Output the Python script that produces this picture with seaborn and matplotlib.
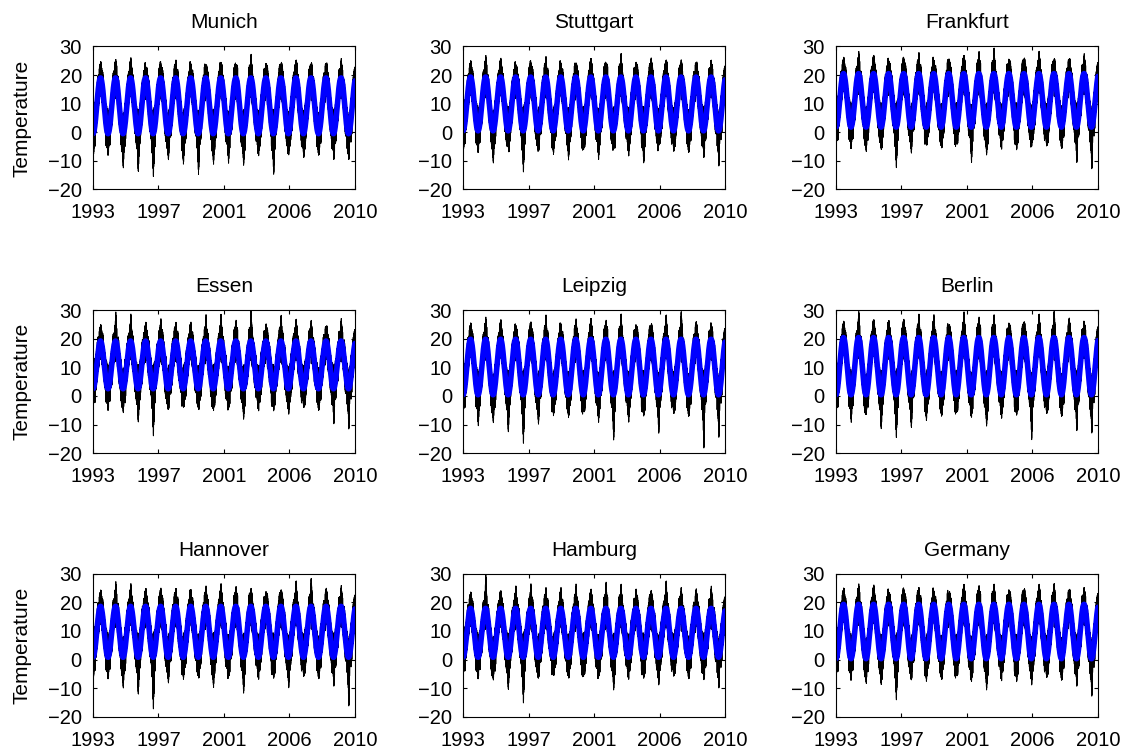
import numpy as np
import pandas as pd
import matplotlib
matplotlib.use("Agg")
import matplotlib.pyplot as plt
import seaborn as sns

# ---------------- data ----------------
cities = ["Munich", "Stuttgart", "Frankfurt", "Essen", "Leipzig", "Berlin",
          "Hannover", "Hamburg", "Germany"]
# seasonal fit (blue): minimum and maximum of the fitted annual cycle
fit_min = [-0.5, 0.5, 1.8, 2.5, 0.4, 0.4, 0.8, 0.8, 0.3]
fit_max = [19.0, 19.3, 20.5, 19.2, 19.8, 20.4, 18.6, 17.9, 19.3]

# daily temperature (black): yearly summer maxima 1993..2009, winter minima Jan 1993..Jan 2010
munich_peaks = [22, 25.5, 26.2, 22.5, 22, 25.4, 24, 23.7, 24.6, 23.7, 27.4, 23, 24, 25.4, 23.5, 23, 26]
munich_lows = [-10.2, -7.4, -12.5, -14, -15.6, -9.7, -11.4, -14.8, -11.4, -11, -11.6, -8, -14.8, -8, -9, -7.4, -9.7, -9.7]
stuttgart_peaks = [24.3, 26.9, 26, 23.7, 23.9, 26.6, 24.3, 24.3, 26, 24.3, 27.7, 24.6, 26, 25.4, 25.4, 23.7, 25.4]
stuttgart_lows = [-8, -6.2, -10.8, -4.5, -14, -5.6, -8, -9.7, -6.2, -9.7, -5, -8.5, -10.8, -3, -6.8, -4, -9, -12]
frankfurt_peaks = [24.3, 28.3, 27, 25, 25.7, 28, 24.8, 25.7, 27, 28.3, 29.6, 25.4, 25.7, 28.5, 25.4, 24.3, 27.7]
frankfurt_lows = [-5, -5.6, -6.8, -6.2, -12.5, -7.4, -4.5, -5, -4, -10.8, -8, -4, -6.2, -5, -4, -5, -10.8, -13]
essen_peaks = [23.5, 29.4, 28.8, 25.9, 27, 25.9, 25.9, 28.5, 28.8, 26.5, 30, 25.3, 28.2, 27, 26.5, 23.5, 27.3]
essen_lows = [-2.4, -4.1, -5.9, -9.4, -14.1, -4.7, -4.1, -4.1, -5.3, -2, -8.2, -2.9, -5.3, -6.5, -3.5, -3, -10, -11.8]
leipzig_peaks = [23.8, 27.6, 26.8, 24.7, 25.9, 28.5, 25.3, 27, 27.3, 26.5, 28.8, 23.8, 24.7, 28.5, 29.6, 26.1, 25.3]
leipzig_lows = [-6.5, -10.6, -9.4, -12.9, -16.7, -10, -7.1, -7.6, -4, -9.4, -15.5, -9.4, -7.1, -13.2, -4.7, -5, -18.6, -14.7]
berlin_peaks = [23.8, 30, 26.8, 26.5, 26.8, 28.8, 28.5, 24.9, 29.6, 27.6, 28.5, 25.3, 25.9, 28.8, 30, 27.3, 25.9]
berlin_lows = [-4.1, -9.4, -6.5, -11.8, -14.7, -11.2, -8.8, -7.1, -5.9, -7.6, -10.6, -8, -6.8, -15.5, -3.5, -6.5, -12.4, -13.2]
hannover_peaks = [22.6, 27.3, 26.7, 25, 25, 25, 24.6, 25.8, 26.7, 25.6, 25, 23.8, 24.4, 27.7, 28.5, 25, 26.1]
hannover_lows = [-8.3, -6.6, -10, -12.4, -17.4, -8.3, -7.1, -4.2, -10, -6, -11.8, -5.4, -6.6, -10, -6, -4.8, -9.5, -16.5]
hamburg_peaks = [21.9, 30, 24.2, 25.9, 26.5, 25.3, 25.3, 26.5, 24.8, 27.1, 26.5, 24.8, 24.2, 27.7, 25.3, 24.8, 25.9]
hamburg_lows = [-3.1, -5.5, -7.2, -10.7, -15.3, -6.6, -5.5, -5.5, -6, -6, -10.7, -4.9, -6.6, -9, -4.3, -6, -7.2, -10.1]
germany_peaks = [21.9, 26.5, 26.2, 23.6, 24.4, 25.3, 23.6, 23, 26.5, 25.9, 26.5, 23.6, 24.4, 26.5, 26.7, 24, 25.3]
germany_lows = [-4.9, -6, -8.4, -9, -14.2, -7.2, -7.8, -6.6, -3.7, -7.8, -10.7, -4.9, -7.8, -9, -6, -4.3, -9.5, -13]

all_peaks = [munich_peaks, stuttgart_peaks, frankfurt_peaks, essen_peaks, leipzig_peaks,
             berlin_peaks, hannover_peaks, hamburg_peaks, germany_peaks]
all_lows = [munich_lows, stuttgart_lows, frankfurt_lows, essen_lows, leipzig_lows,
            berlin_lows, hannover_lows, hamburg_lows, germany_lows]

span_years = 17.43
x_tick_labels = ["1993", "1997", "2001", "2006", "2010"]
y_ticks = [-20, -10, 0, 10, 20, 30]
ylabel = "Temperature"

# typical day-to-day spread around the seasonal cycle (°C) and its texture
spread_up_winter = 6.5
spread_up_summer = 4.6
spread_dn_winter = 6.0
spread_dn_summer = 6.0
tex_fine = [1.0, 0.9, 0.95, 0.8, 1.0, 0.85, 0.7, 0.95, 0.9, 1.0, 0.75, 0.9, 0.85]
tex_coarse = [1.0, 0.55, 1.25, 0.8, 1.15, 0.45, 0.9, 1.3, 0.65, 1.05, 0.6, 1.2, 0.85, 0.5, 1.1, 0.95, 1.25]

# ---------------- build series ----------------
t = np.arange(0, int(span_years * 365.25)) / 365.25
day = np.arange(len(t))
tf = np.array(tex_fine)
tc = np.array(tex_coarse)


def tri(tt, c, hw):
    return np.clip(1 - np.abs(tt - c) / hw, 0, None)


def build(i):
    mid = (fit_min[i] + fit_max[i]) / 2
    amp = (fit_max[i] - fit_min[i]) / 2
    season = np.cos(2 * np.pi * t)  # +1 winter, -1 summer
    fit = mid - amp * season
    s_up = (spread_up_winter + spread_up_summer) / 2 + (spread_up_winter - spread_up_summer) / 2 * season
    s_dn = (spread_dn_winter + spread_dn_summer) / 2 + (spread_dn_winter - spread_dn_summer) / 2 * season
    up = fit + s_up * tf[(day * 7) % len(tf)] * tc[(day // 17 + 5) % len(tc)]
    dn = fit - s_dn * tf[day % len(tf)] * tc[(day // 19) % len(tc)]
    pk = np.zeros_like(t)
    for k, p in enumerate(all_peaks[i]):
        pk = np.maximum(pk, (p - fit) * tri(t, k + 0.52, 0.09))
    lo_ = np.zeros_like(t)
    for k, lo in enumerate(all_lows[i]):
        lo_ = np.maximum(lo_, (fit - lo) * tri(t, k + 0.02, 0.09))
    up = np.minimum(np.maximum(up, fit + pk), 29.5)
    dn = np.minimum(dn, fit - lo_)
    black = np.where(day % 2 == 1, up, dn)
    return fit, black


# ---------------- plot ----------------
sns.set_theme(style="ticks")
plt.rcParams["font.family"] = ["Liberation Sans", "DejaVu Sans"]
plt.rcParams["axes.linewidth"] = 0.8
plt.rcParams["axes.edgecolor"] = "black"
plt.rcParams["text.color"] = "black"
plt.rcParams["axes.labelcolor"] = "black"
plt.rcParams["xtick.color"] = "black"
plt.rcParams["ytick.color"] = "black"

fig = plt.figure(figsize=(11.23, 7.49), dpi=100)
lefts = [0.0828, 0.4123, 0.7444]
bottoms = [0.747, 0.395, 0.043]
w, h = 0.2333, 0.191

for i, city in enumerate(cities):
    row, col = divmod(i, 3)
    ax = fig.add_axes([lefts[col], bottoms[row], w, h])
    fit, black = build(i)
    df = pd.DataFrame({"t": t, "black": black, "fit": fit})
    sns.lineplot(data=df, x="t", y="black", color="black", lw=0.7, ax=ax, estimator=None)
    sns.lineplot(data=df, x="t", y="fit", color="#0000ff", lw=4.0, ax=ax, estimator=None)
    ax.set_xlim(0, span_years)
    ax.set_ylim(-20, 30)
    ax.set_xticks(np.linspace(0, span_years, 5))
    ax.set_xticklabels(x_tick_labels)
    ax.set_yticks(y_ticks)
    ax.tick_params(direction="in", top=True, right=True, length=3, width=0.8,
                   labelsize=14.5, colors="black")
    ax.tick_params(axis="y", pad=8)
    ax.tick_params(axis="x", pad=10)
    for s in ax.spines.values():
        s.set_visible(True)
        s.set_color("black")
        s.set_linewidth(0.8)
    ax.set_title(city, fontsize=15, pad=13, color="black")
    ax.set_xlabel("")
    if col == 0:
        ax.set_ylabel(ylabel, fontsize=15)
        ax.yaxis.set_label_coords(-0.235, 0.5)
    else:
        ax.set_ylabel("")

fig.savefig("out.png", dpi=100, facecolor="white")
